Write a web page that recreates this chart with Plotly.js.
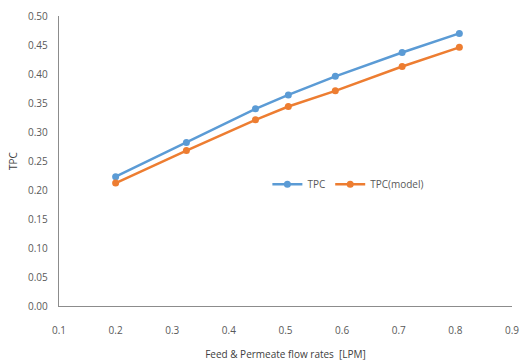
<!DOCTYPE html>
<html>
<head>
<meta charset="utf-8">
<script src="https://cdn.plot.ly/plotly-3.0.1.min.js"></script>
<style>html,body{margin:0;padding:0;background:#fff;}#chart{width:522px;height:363px;}</style>
</head>
<body>
<div id="chart"></div>
<script>
const flowRates = [0.2, 0.325, 0.447, 0.505, 0.588, 0.706, 0.807];
const tpc = [0.223, 0.282, 0.340, 0.364, 0.396, 0.437, 0.470];
const tpcModel = [0.212, 0.268, 0.321, 0.344, 0.371, 0.413, 0.446];
const xTicks = [0.1, 0.2, 0.3, 0.4, 0.5, 0.6, 0.7, 0.8, 0.9];
const yTicks = [0, 0.05, 0.1, 0.15, 0.2, 0.25, 0.3, 0.35, 0.4, 0.45, 0.5];

const font = {family: 'Open Sans, Liberation Sans, sans-serif', size: 10, color: '#595959'};
const traces = [
  {x: flowRates, y: tpc, name: 'TPC', mode: 'lines+markers',
   line: {color: '#5B9BD5', width: 2.5}, marker: {color: '#5B9BD5', size: 7}},
  {x: flowRates, y: tpcModel, name: 'TPC(model)', mode: 'lines+markers',
   line: {color: '#ED7D31', width: 2.5}, marker: {color: '#ED7D31', size: 7}}
];
const layout = {
  width: 522, height: 363,
  margin: {l: 59, r: 10, t: 16, b: 57},
  paper_bgcolor: '#fff', plot_bgcolor: '#fff',
  font: font,
  showlegend: true,
  legend: {orientation: 'h', x: 0.46, y: 0.42, xanchor: 'left', yanchor: 'middle',
           font: {family: font.family, size: 10, color: '#595959'}, bgcolor: 'rgba(0,0,0,0)'},
  xaxis: {range: [0.1, 0.9], tickvals: xTicks, ticktext: xTicks.map(v => v.toFixed(1)),
          showgrid: false, zeroline: false, showline: true, linecolor: '#8c8c8c', linewidth: 1.2,
          ticks: '', ticklabelstandoff: 15,
          title: {text: 'Feed & Permeate flow rates  [LPM]', font: {family: font.family, size: 10, color: '#404040'}, standoff: 14}},
  yaxis: {range: [0, 0.5], tickvals: yTicks, ticktext: yTicks.map(v => v.toFixed(2)),
          showgrid: false, zeroline: false, showline: true, linecolor: '#8c8c8c', linewidth: 1.2,
          ticks: '', ticklabelstandoff: 8,
          title: {text: 'TPC', font: {family: font.family, size: 10, color: '#404040'}, standoff: 8}}
};
Plotly.newPlot('chart', traces, layout, {displayModeBar: false, staticPlot: true});
</script>
</body>
</html>
